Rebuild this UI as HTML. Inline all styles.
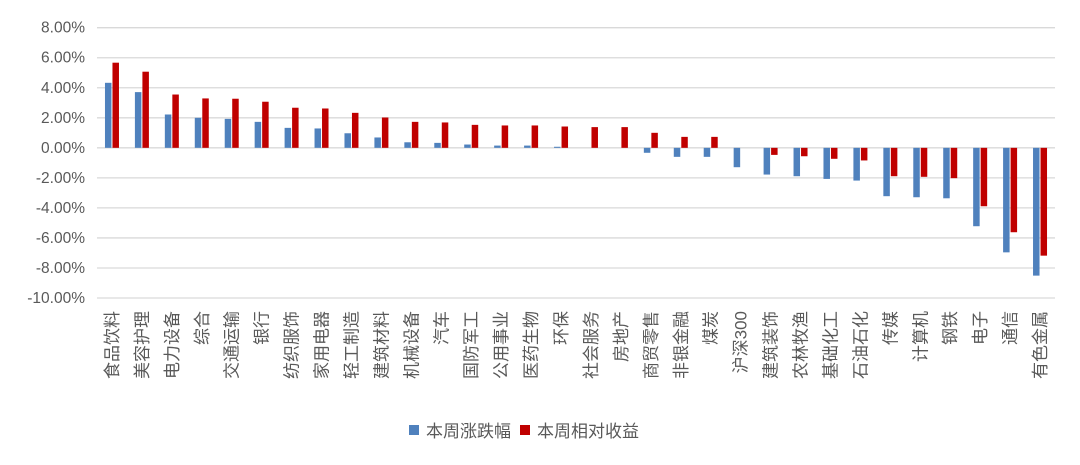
<!DOCTYPE html>
<html><head><meta charset="utf-8"><style>
html,body{margin:0;padding:0;background:#fff;}
svg{display:block;font-family:"Liberation Sans","Noto Sans CJK SC",sans-serif;}
</style></head><body>
<svg id="chart" width="1080" height="465" viewBox="0 0 1080 465" xmlns="http://www.w3.org/2000/svg">
<g id="grid"></g>
<g id="yaxis"></g>
<g id="bars"></g>
<g id="xaxis"></g>
<g>
  <rect x="409" y="425" width="10" height="10" fill="#4f81bd"/>
  <text x="426" y="437" font-size="17" fill="#595959">本周涨跌幅</text>
  <rect x="520" y="425" width="10" height="10" fill="#c00000"/>
  <text x="537" y="437" font-size="17" fill="#595959">本周相对收益</text>
</g>
</svg>
<script>
const categories = ["食品饮料","美容护理","电力设备","综合","交通运输","银行","纺织服饰","家用电器","轻工制造","建筑材料","机械设备","汽车","国防军工","公用事业","医药生物","环保","社会服务","房地产","商贸零售","非银金融","煤炭","沪深300","建筑装饰","农林牧渔","基础化工","石油石化","传媒","计算机","钢铁","电子","通信","有色金属"];
const weeklyChange = [4.33,3.71,2.22,2.0,1.93,1.73,1.33,1.29,0.97,0.69,0.37,0.33,0.22,0.15,0.15,0.07,0.0,0.0,-0.33,-0.6,-0.6,-1.29,-1.78,-1.89,-2.07,-2.18,-3.22,-3.29,-3.36,-5.22,-6.96,-8.51];
const relativeReturn = [5.67,5.07,3.55,3.29,3.27,3.07,2.67,2.62,2.33,2.02,1.73,1.69,1.53,1.49,1.49,1.42,1.38,1.38,1.0,0.73,0.73,0.0,-0.47,-0.56,-0.73,-0.84,-1.89,-1.93,-2.02,-3.89,-5.62,-7.18];
const yTicks = [8,6,4,2,0,-2,-4,-6,-8,-10];
const yTickLabels = ["8.00%","6.00%","4.00%","2.00%","0.00%","-2.00%","-4.00%","-6.00%","-8.00%","-10.00%"];

const NS="http://www.w3.org/2000/svg";
const plotL=97, plotR=1055, yMax=8, yMin=-10, yTop=27.7, yBot=298;
const y = v => yTop + (yMax - v) * (yBot - yTop) / (yMax - yMin);
const band = (plotR-plotL)/categories.length;
const xc = i => plotL + band*(i+0.5);
function mk(tag, attrs, parent){const e=document.createElementNS(NS,tag);for(const k in attrs)e.setAttribute(k,attrs[k]);parent.appendChild(e);return e;}
const grid=document.getElementById('grid'), yaxis=document.getElementById('yaxis'), bars=document.getElementById('bars'), xaxis=document.getElementById('xaxis');
yTicks.forEach((t,i)=>{
  const l=mk('line',{x1:plotL,x2:plotR,y1:y(t),y2:y(t),stroke:'#d9d9d9','stroke-width':1.3},grid);
  
  
  const tx=mk('text',{x:85,y:y(t)+5,'text-anchor':'end','font-size':15.5,fill:'#595959'},yaxis);
  tx.textContent=yTickLabels[i];
  
  
});
const bw=6.5;
categories.forEach((c,i)=>{
  const cx=xc(i);
  const v1=weeklyChange[i], v2=relativeReturn[i];
  const b1=mk('rect',{x:cx-bw-0.5,y:Math.min(y(0),y(v1)),width:bw,height:Math.abs(y(v1)-y(0)),fill:'#4f81bd'},bars);
  
  
  const b2=mk('rect',{x:cx+0.5,y:Math.min(y(0),y(v2)),width:bw,height:Math.abs(y(v2)-y(0)),fill:'#c00000'},bars);
  
  
  const t=mk('text',{transform:`translate(${cx+6},311) rotate(-90)`,'text-anchor':'end','font-size':17,fill:'#595959'},xaxis);
  t.textContent=c;
  
  
});
</script>
</body></html>
